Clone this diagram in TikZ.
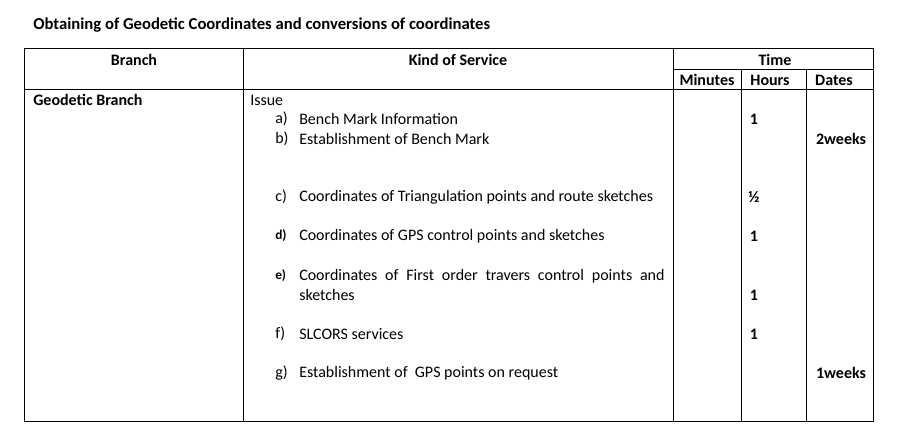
\documentclass[tikz,border=0pt]{standalone}
\usepackage{fontspec}
\setmainfont{Carlito}
\begin{document}
\begin{tikzpicture}[x=0.75pt,y=-0.75pt,font=\fontsize{12}{14}\selectfont,
	hd/.style={font=\fontsize{12}{14}\selectfont\bfseries},
	txt/.style={anchor=west,inner sep=0pt}]
	\useasboundingbox (0,0) rectangle (899,446);
	% grid
	\draw[line width=0.6pt] (24,48) rectangle (873,421);
	\draw[line width=0.6pt] (24,89) -- (873,89);
	\draw[line width=0.6pt] (673,69) -- (873,69);
	\draw[line width=0.6pt] (243,48) -- (243,421);
	\draw[line width=0.6pt] (673,48) -- (673,421);
	\draw[line width=0.6pt] (741,69) -- (741,421);
	\draw[line width=0.6pt] (806,69) -- (806,421);

	\node[hd,txt] (title) at (33,25) {\fontsize{12.5}{14}\selectfont Obtaining of Geodetic Coordinates and conversions of coordinates};
	\node[hd] (branch) at (134,60) {Branch};
	\node[hd] (kind) at (458,60) {Kind of Service};
	\node[hd] (time) at (775,60) {Time};
	\node[hd] (mins) at (707,80) {Minutes};
	\node[hd] (hours) at (770,80) {Hours};
	\node[hd] (dates) at (834,80) {Dates};

	\node[hd,txt] (geo) at (33,100) {Geodetic Branch};
	\node[txt] (issue) at (250,100) {Issue};

	\node[txt] at (275,119) {a)};
	\node[txt] at (299,119) {Bench Mark Information};
	\node[txt] at (275,139) {b)};
	\node[txt] at (299,139) {Establishment of Bench Mark};
	\node[txt] at (275,197) {c)};
	\node[txt] at (299,197) {Coordinates of Triangulation points and route sketches};
	\node[txt,font=\bfseries] at (275,236) {d)};
	\node[txt] at (299,236) {Coordinates of GPS control points and sketches};
	\node[txt,font=\bfseries] at (275,276) {e)};
	\node[txt] at (299,276) {\makebox[274pt][s]{Coordinates of First order travers control points and}};
	\node[txt] at (299,295) {sketches};
	\node[txt] at (275,334) {f)};
	\node[txt] at (299,334) {SLCORS services};
	\node[txt] at (275,373) {g)};
	\node[txt] at (299,373) {Establishment of\ \ GPS points on request};

	\foreach \yy/\val in {119/1,197/½,236/1,295/1,334/1}
		\node[hd] at (754,\yy) {\val};
	\node[hd] at (841,139) {2weeks};
	\node[hd] at (841,373) {1weeks};
\end{tikzpicture}
\end{document}
